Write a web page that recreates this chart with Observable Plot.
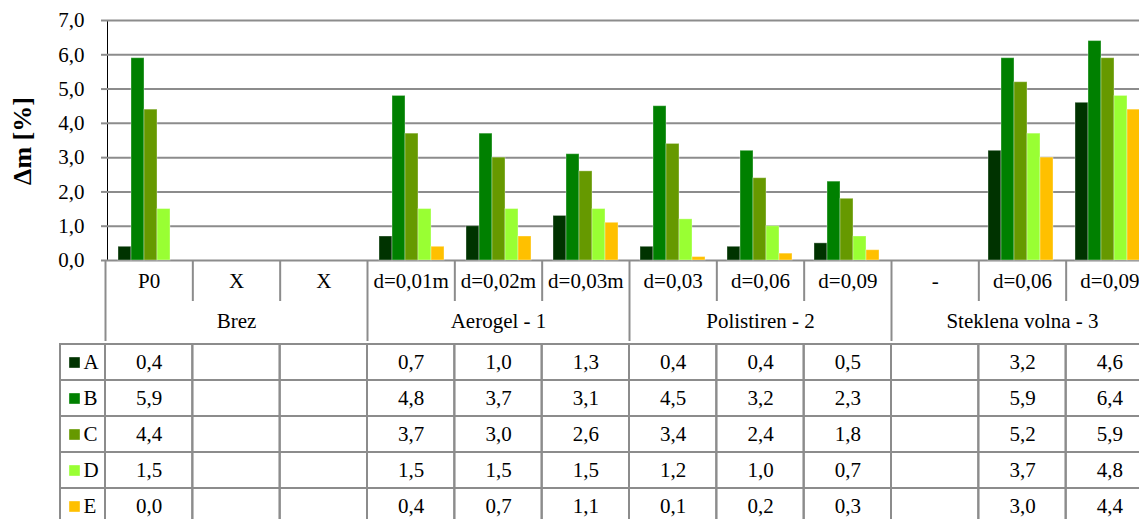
<!DOCTYPE html>
<html><head><meta charset="utf-8">
<script src="https://cdn.jsdelivr.net/npm/d3@7"></script>
<script src="https://cdn.jsdelivr.net/npm/@observablehq/plot@0.6"></script>
<style>
html,body{margin:0;padding:0;background:#fff;overflow:hidden;}
#wrap{position:relative;width:1139px;height:519px;overflow:hidden;background:#fff;}
#wrap svg{display:block;font-family:"Liberation Serif",serif !important;font-size:21px !important;max-width:none !important;background:transparent !important;}
#wrap svg text{font-family:"Liberation Serif",serif !important;}
#ylab{position:absolute;left:23px;top:141px;transform:translate(-50%,-50%) rotate(-90deg);font:bold 26px "Liberation Serif",serif;white-space:nowrap;color:#000;}
svg [aria-label^="y-axis"] line, svg [aria-label^="y-axis"] path{stroke:#8c8c8c;stroke-width:2px;}
</style></head><body><div id="wrap"><div id="ylab">Δm [%]</div></div>
<script>
// ---- data ----
const categories = ["P0","X","X","d=0,01m","d=0,02m","d=0,03m","d=0,03","d=0,06","d=0,09","-","d=0,06","d=0,09"];
const groupNames = ["Brez","Aerogel - 1","Polistiren - 2","Steklena volna - 3"];
const groupOfCategory = [0,0,0,1,1,1,2,2,2,3,3,3];
const seriesNames = ["A","B","C","D","E"];
const seriesColors = ["#003300","#008000","#669900","#99ff33","#ffc000"];
const valuesA = [0.4,null,null,0.7,1.0,1.3,0.4,0.4,0.5,null,3.2,4.6];
const valuesB = [5.9,null,null,4.8,3.7,3.1,4.5,3.2,2.3,null,5.9,6.4];
const valuesC = [4.4,null,null,3.7,3.0,2.6,3.4,2.4,1.8,null,5.2,5.9];
const valuesD = [1.5,null,null,1.5,1.5,1.5,1.2,1.0,0.7,null,3.7,4.8];
const valuesE = [0.0,null,null,0.4,0.7,1.1,0.1,0.2,0.3,null,3.0,4.4];
const yTicks = [0,1,2,3,4,5,6,7];

// ---- build ----
const seriesValues = [valuesA,valuesB,valuesC,valuesD,valuesE];
const catIdx = d3.range(categories.length);
const cells = [];
seriesNames.forEach((s,k)=>catIdx.forEach(i=>cells.push({i, series:s, value: seriesValues[k][i]})));
const fmt = v => v.toFixed(1).replace(".", ",");
const lineColor = "#8c8c8c";
const W = 1153, ML = 105;
const baseStyle = {fontSize:"21px", fontFamily:"'Liberation Serif', serif", maxWidth:"none", color:"#000", background:"transparent"};
const boundaries = d3.range(categories.length + 1);
const groupSpans = groupNames.map((name,g)=>{const idx = catIdx.filter(i=>groupOfCategory[i]===g); return {name, start:d3.min(idx), end:d3.max(idx)+1};});
const groupBounds = [0, ...groupSpans.map(d=>d.end)];
const wrap = document.getElementById("wrap");

const bars = Plot.plot({
  width: W, height: 261, marginTop: 20, marginBottom: 1, marginLeft: ML, marginRight: 0,
  style: {...baseStyle, overflow: "visible"},
  facet: {data: cells, x: "i"},
  fx: {domain: catIdx, padding: 0, axis: null},
  x: {domain: seriesNames, paddingInner: 0, paddingOuter: 0.75, axis: null},
  y: {domain: [0,7], ticks: yTicks, tickFormat: fmt, tickSize: 6, tickPadding: 17, label: null, line: true},
  color: {domain: seriesNames, range: seriesColors},
  marks: [
    Plot.ruleY(yTicks, {stroke: lineColor, strokeWidth: 2}),
    Plot.barY(cells, {x: "series", y: "value", fill: "series", stroke: "#fff", strokeOpacity: 0.35, strokeWidth: 1})
  ]
});
wrap.appendChild(bars);

const header = Plot.plot({
  width: W, height: 80, marginTop: 0, marginBottom: 0, marginLeft: ML, marginRight: 0,
  style: baseStyle,
  x: {domain: [0, categories.length], axis: null},
  y: {type: "band", domain: ["sub","group"], padding: 0, axis: null},
  marks: [
    Plot.tickX(boundaries, {x: d=>d, y: ()=>"sub", stroke: lineColor, strokeWidth: 2}),
    Plot.tickX(groupBounds, {x: d=>d, y: ()=>"group", stroke: lineColor, strokeWidth: 2}),
    Plot.text(catIdx, {x: i=>i+0.5, y: ()=>"sub", text: i=>categories[i], fill: "#000"}),
    Plot.text(groupSpans, {x: d=>(d.start+d.end)/2, y: ()=>"group", text: "name", fill: "#000"})
  ]
});
wrap.appendChild(header);

const body = Plot.plot({
  width: W, height: 185, marginTop: 1, marginBottom: 0, marginLeft: ML, marginRight: 0,
  style: baseStyle,
  x: {domain: [0, categories.length], axis: null},
  y: {type: "band", domain: seriesNames, padding: 0, axis: null},
  color: {domain: seriesNames, range: seriesColors},
  marks: [
    Plot.rect(cells, {x1: "i", x2: d=>d.i+1, y: "series", stroke: lineColor, strokeWidth: 2, fill: "none"}),
    Plot.rect(seriesNames, {x1: 0, x2: 0, y: d=>d, insetLeft: -45, stroke: lineColor, strokeWidth: 2, fill: "none"}),
    Plot.dot(seriesNames, {y: d=>d, frameAnchor: "left", dx: -31, symbol: "square", r: 6, fill: d=>d, stroke: "none"}),
    Plot.text(seriesNames, {y: d=>d, frameAnchor: "left", dx: -22, textAnchor: "start", text: d=>d, fill: "#000"}),
    Plot.text(cells.filter(d=>d.value!=null), {x: d=>d.i+0.5, y: "series", text: d=>fmt(d.value), fill: "#000"})
  ]
});
wrap.appendChild(body);
</script></body></html>
